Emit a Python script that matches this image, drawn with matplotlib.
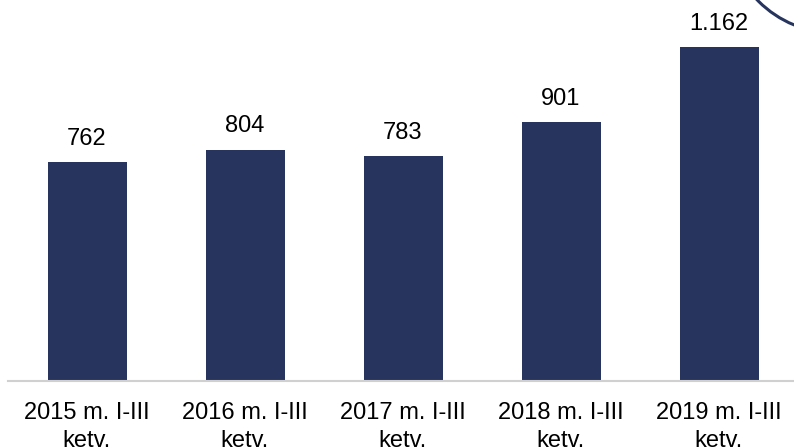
import matplotlib.pyplot as plt
from matplotlib.patches import Circle

categories = ['2015 m. I-III\nketv.', '2016 m. I-III\nketv.', '2017 m. I-III\nketv.',
              '2018 m. I-III\nketv.', '2019 m. I-III\nketv.']
values = [762, 804, 783, 901, 1162]
value_labels = ['762', '804', '783', '901', '1.162']

plt.rcParams['font.family'] = ['Liberation Sans', 'DejaVu Sans']

fig = plt.figure(figsize=(7.94, 4.47), dpi=100)
ax = fig.add_axes([8 / 794, (447 - 381) / 447, 790 / 794, 381 / 447])

x = list(range(len(values)))
bars = ax.bar(x, values, width=0.5, color='#26345e')
for b, lab in zip(bars, value_labels):
    ax.annotate(lab, (b.get_x() + b.get_width() / 2, b.get_height()),
                xytext=(0, 9), textcoords='offset points',
                ha='center', va='bottom', fontsize=17, color='black')

ax.set_xlim(-0.5, 4.5)
ax.set_ylim(0, 1326)
ax.set_xticks(x)
ax.set_xticklabels(categories, fontsize=17, linespacing=1.35)
ax.tick_params(axis='x', length=0, pad=15)
ax.set_yticks([])
for s in ['top', 'right', 'left']:
    ax.spines[s].set_visible(False)
ax.spines['bottom'].set_color('#d0d0d0')
ax.spines['bottom'].set_linewidth(1.5)

# decorative arc in the top right corner
circ = Circle((835, 447 + 75), 108, transform=None, fill=False,
              edgecolor='#26345e', linewidth=2.2)
fig.patches.append(circ)

fig.savefig('out.png', dpi=100)
